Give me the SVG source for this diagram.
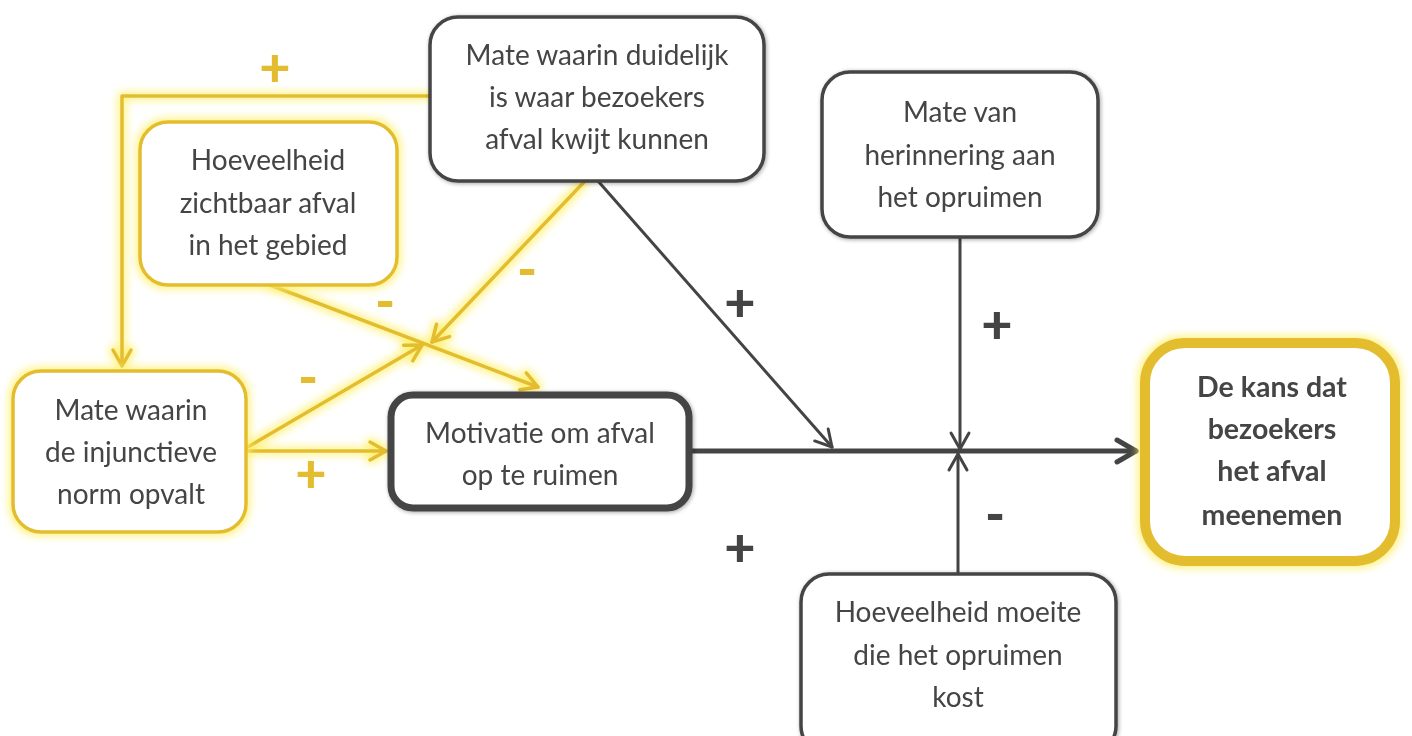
<svg xmlns="http://www.w3.org/2000/svg" width="1412" height="736" viewBox="0 0 1412 736">
<defs>
<style>
.t{font-family:"Source Sans Pro","Lato","Liberation Sans",sans-serif;font-size:28px;fill:#444;text-anchor:middle}
.b{font-weight:bold;font-size:28.5px}
.lbl{font-family:"Lato","Liberation Sans",sans-serif;font-size:54px;font-weight:900;text-anchor:middle}
.ly{fill:#e3bd2f}
.ld{fill:#444}
.nd{fill:#fff;stroke:#444;stroke-width:3.5}
.ny{fill:#fff;stroke:#e3bd2f;stroke-width:3.5}
.cy{fill:none;stroke:#e3bd2f;stroke-width:3.5;stroke-linecap:round;stroke-linejoin:round}
.cd{fill:none;stroke:#444;stroke-width:3;stroke-linecap:round}
</style>
<filter id="glow" x="-20%" y="-20%" width="140%" height="140%">
<feMorphology in="SourceAlpha" operator="dilate" radius="2" result="d"/>
<feGaussianBlur in="d" stdDeviation="4" result="b"/>
<feFlood flood-color="#fff06a" flood-opacity="0.9"/>
<feComposite in2="b" operator="in" result="g"/>
<feMerge><feMergeNode in="g"/><feMergeNode in="SourceGraphic"/></feMerge>
</filter>
<filter id="sh" x="-10%" y="-10%" width="120%" height="120%">
<feGaussianBlur in="SourceAlpha" stdDeviation="2" result="b"/>
<feOffset in="b" dx="1" dy="1" result="o"/>
<feComponentTransfer in="o" result="s"><feFuncA type="linear" slope="0.35"/></feComponentTransfer>
<feMerge><feMergeNode in="s"/><feMergeNode in="SourceGraphic"/></feMerge>
</filter>
<marker id="ay" markerUnits="userSpaceOnUse" viewBox="-20 -12 24 24" markerWidth="24" markerHeight="24" refX="0" refY="0" orient="auto" overflow="visible">
<path d="M-16,-9 L0,0 L-16,9" fill="none" stroke="#e3bd2f" stroke-width="3.5" stroke-linecap="round" stroke-linejoin="round"/>
</marker>
<marker id="ad" markerUnits="userSpaceOnUse" viewBox="-20 -12 24 24" markerWidth="24" markerHeight="24" refX="0" refY="0" orient="auto" overflow="visible">
<path d="M-16,-9 L0,0 L-16,9" fill="none" stroke="#444" stroke-width="3" stroke-linecap="round" stroke-linejoin="round"/>
</marker>
<marker id="adb" markerUnits="userSpaceOnUse" viewBox="-24 -14 28 28" markerWidth="28" markerHeight="28" refX="0" refY="0" orient="auto" overflow="visible">
<path d="M-19,-11 L0,0 L-19,11" fill="none" stroke="#444" stroke-width="5" stroke-linecap="round" stroke-linejoin="round"/>
</marker>
</defs>
<rect width="1412" height="736" fill="#fff"/>

<g id="connectors">
<g filter="url(#glow)">
<path class="cy" d="M430,96 L122,96 L122,366" marker-end="url(#ay)"/>
<path class="cy" d="M270,285 L538,387" marker-end="url(#ay)"/>
<path class="cy" d="M585,181 L432,342" marker-end="url(#ay)"/>
<path class="cy" d="M246,448 L422,345" marker-end="url(#ay)"/>
<path class="cy" d="M246,451 L386,451" marker-end="url(#ay)"/>
</g>
<path class="cd" style="stroke-width:5" d="M691,451 L1136,451" marker-end="url(#adb)"/>
<path class="cd" d="M598,181 L832,447" marker-end="url(#ad)"/>
<path class="cd" d="M960,237 L960,449" marker-end="url(#ad)"/>
<path class="cd" d="M958,574 L958,454" marker-end="url(#ad)"/>
</g>

<g id="labels">
<text class="lbl ly" x="275" y="86">+</text>
<text class="lbl ly" x="385" y="320">-</text>
<text class="lbl ly" x="527" y="288">-</text>
<text class="lbl ly" x="308" y="396">-</text>
<text class="lbl ly" x="311" y="492">+</text>
<text class="lbl ld" x="740" y="321">+</text>
<text class="lbl ld" x="997" y="343">+</text>
<text class="lbl ld" x="995" y="533">-</text>
<text class="lbl ld" x="740" y="566">+</text>
</g>

<g id="n_duidelijk" filter="url(#sh)">
<rect class="nd" x="430" y="17" width="334" height="164" rx="28"/>
<text class="t" x="597" y="65">Mate waarin duidelijk</text>
<text class="t" x="597" y="107">is waar bezoekers</text>
<text class="t" x="597" y="149">afval kwijt kunnen</text>
</g>

<g id="n_herinnering" filter="url(#sh)">
<rect class="nd" x="822" y="72" width="276" height="165" rx="28"/>
<text class="t" x="960" y="122">Mate van</text>
<text class="t" x="960" y="165">herinnering aan</text>
<text class="t" x="960" y="207">het opruimen</text>
</g>

<g id="n_zichtbaar" filter="url(#glow)">
<rect class="ny" x="140" y="122" width="257" height="163" rx="28"/>
<text class="t" x="268" y="170">Hoeveelheid</text>
<text class="t" x="268" y="213">zichtbaar afval</text>
<text class="t" x="268" y="255">in het gebied</text>
</g>

<g id="n_injunctieve" filter="url(#glow)">
<rect class="ny" x="13" y="371" width="233" height="161" rx="28"/>
<text class="t" x="131" y="420">Mate waarin</text>
<text class="t" x="131" y="462">de injunctieve</text>
<text class="t" x="131" y="504">norm opvalt</text>
</g>

<g id="n_motivatie" filter="url(#sh)">
<rect class="nd" style="stroke-width:7" x="391" y="395" width="298" height="113" rx="22"/>
<text class="t" x="540" y="443">Motivatie om afval</text>
<text class="t" x="540" y="485">op te ruimen</text>
</g>

<g id="n_kans" filter="url(#glow)">
<rect class="ny" style="stroke-width:10" x="1145" y="343" width="250" height="218" rx="40"/>
<text class="t b" x="1272" y="397">De kans dat</text>
<text class="t b" x="1272" y="439">bezoekers</text>
<text class="t b" x="1272" y="481">het afval</text>
<text class="t b" x="1272" y="525">meenemen</text>
</g>

<g id="n_moeite" filter="url(#sh)">
<rect class="nd" x="801" y="574" width="315" height="180" rx="28"/>
<text class="t" x="958" y="622">Hoeveelheid moeite</text>
<text class="t" x="958" y="665">die het opruimen</text>
<text class="t" x="958" y="707">kost</text>
</g>
</svg>
